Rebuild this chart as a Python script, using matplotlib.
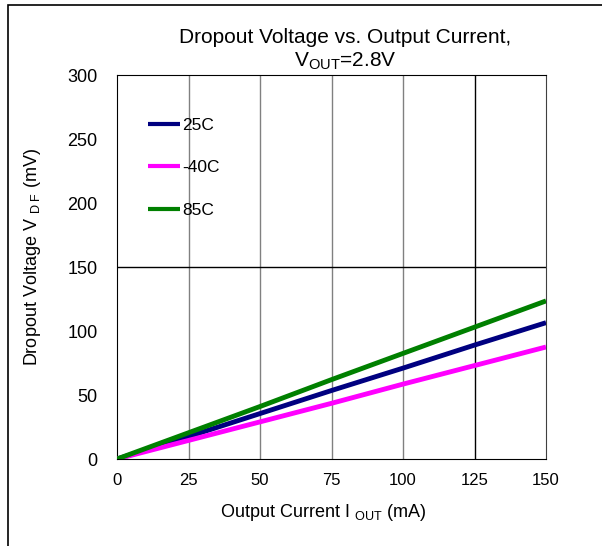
import numpy as np
import matplotlib
matplotlib.use("Agg")
from matplotlib import pyplot as plt
from matplotlib.patches import Rectangle

plt.rcParams['font.family'] = ['Liberation Sans', 'DejaVu Sans']
plt.rcParams['mathtext.fontset'] = 'custom'
plt.rcParams['mathtext.rm'] = 'Liberation Sans'
plt.rcParams['mathtext.it'] = 'Liberation Sans'

# output current (mA)
current = [0, 25, 50, 75, 100, 125, 150]
# dropout voltage (mV)
v_25c = [0, 17.5, 35.5, 53.5, 71, 89, 106.5]
v_m40c = [0, 14.5, 29, 43.5, 58.5, 73, 87.5]
v_85c = [0, 20.5, 41, 62, 82.5, 103, 123.5]

labels = ['25C', '-40C', '85C']
colors = ['#000080', '#ff00ff', '#008000']
xticks = [0, 25, 50, 75, 100, 125, 150]
yticks = [0, 50, 100, 150, 200, 250, 300]

fig = plt.figure(figsize=(6.02, 5.46), dpi=100)
# outer frame
fig.patches.append(Rectangle((8 / 602, -0.1), 1.2, 1 - 5 / 546 + 0.1,
                             transform=fig.transFigure, fill=False,
                             edgecolor='black', linewidth=1.2))

ax = fig.add_axes([117 / 602, 1 - 459 / 546, 429 / 602, 384 / 546])
for x in xticks[1:-1]:
    ax.axvline(x, color='black' if x == 125 else '#808080', lw=1.0, zorder=1)
ax.axhline(150, color='black', lw=1.0, zorder=1)

for vals, lab, col in zip([v_25c, v_m40c, v_85c], labels, colors):
    ax.plot(current, vals, color=col, lw=3.5, label=lab, zorder=3,
            solid_capstyle='butt')

ax.set_xlim(0, 150)
ax.set_ylim(0, 300)
ax.set_xticks(xticks)
ax.set_yticks(yticks)
ax.tick_params(length=0)
ax.tick_params(axis='x', labelsize=12, pad=10)
ax.tick_params(axis='y', labelsize=13, pad=14)
for s in ['left', 'bottom', 'top']:
    ax.spines[s].set_color('black')
ax.spines['right'].set_color('#404040')

ax.set_xlabel('Output Current I $_{\\mathrm{OUT}}$ (mA)', fontsize=13)
ax.xaxis.set_label_coords(0.481, -0.113)
ax.set_ylabel('Dropout Voltage V $_{\\mathrm{D\\ F}}$ (mV)', fontsize=13)
ax.yaxis.set_label_coords(-0.173, 0.526)
ax.set_title('Dropout Voltage vs. Output Current,\n$\\mathrm{V_{OUT}}$=2.8V',
             fontsize=15, pad=6, linespacing=1.2, x=0.531)

leg = ax.legend(loc='upper left', bbox_to_anchor=(0.036, 0.93), frameon=False,
                fontsize=12.5, handlelength=1.84, handletextpad=0.15,
                labelspacing=1.58)
for ln in leg.get_lines():
    ln.set_linewidth(3)

fig.savefig('out.png', dpi=100)
